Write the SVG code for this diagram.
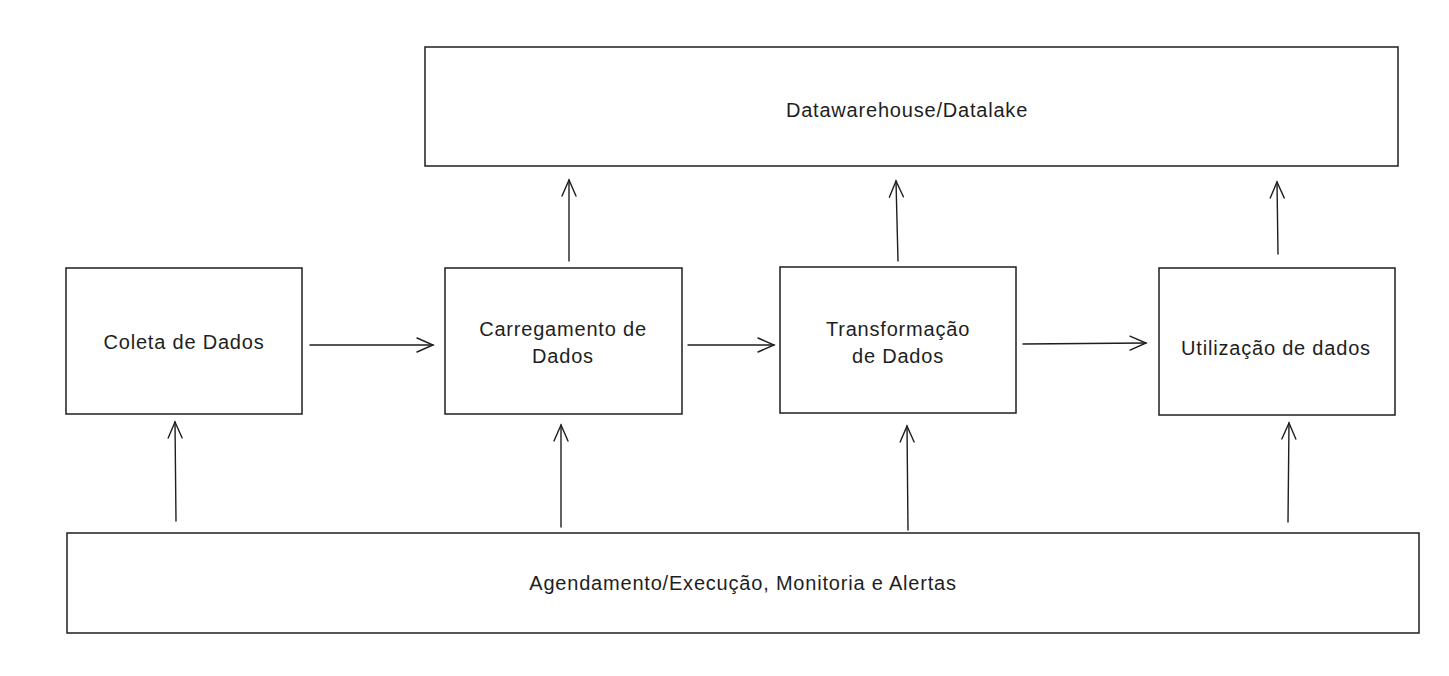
<svg xmlns="http://www.w3.org/2000/svg" width="1449" height="676" viewBox="0 0 1449 676">
<style>
.box{fill:#ffffff;stroke:#1e1e1e;stroke-width:1.5}
.lbl{font-family:"Liberation Sans",Arial,sans-serif;font-size:20px;fill:#1e1e1e;text-anchor:middle;letter-spacing:0.8px}
.edge{fill:none;stroke:#1e1e1e;stroke-width:1.4;stroke-linecap:round}
</style>
<defs>
<marker id="ah" viewBox="0 0 20 20" refX="18" refY="10" markerWidth="20" markerHeight="20" markerUnits="userSpaceOnUse" orient="auto">
<path d="M2,3 L18,10 L2,17" fill="none" stroke="#1e1e1e" stroke-width="1.4" stroke-linecap="round"/>
</marker>
</defs>
<rect width="1449" height="676" fill="#ffffff"/>
<g id="datawarehouse">
<rect class="box" x="425" y="47" width="973" height="119"/>
<text class="lbl" x="907" y="117">Datawarehouse/Datalake</text>
</g>
<g id="coleta">
<rect class="box" x="66" y="268" width="236" height="146"/>
<text class="lbl" x="184" y="349">Coleta de Dados</text>
</g>
<g id="carregamento">
<rect class="box" x="445" y="268" width="237" height="146"/>
<text class="lbl" x="563" y="336">Carregamento de</text>
<text class="lbl" x="563" y="363">Dados</text>
</g>
<g id="transformacao">
<rect class="box" x="780" y="267" width="236" height="146"/>
<text class="lbl" x="898" y="336">Transformação</text>
<text class="lbl" x="898" y="363">de Dados</text>
</g>
<g id="utilizacao">
<rect class="box" x="1159" y="268" width="236" height="147"/>
<text class="lbl" x="1276" y="355">Utilização de dados</text>
</g>
<g id="agendamento">
<rect class="box" x="67" y="533" width="1352" height="100"/>
<text class="lbl" x="743" y="590">Agendamento/Execução, Monitoria e Alertas</text>
</g>
<g id="connectors">
<path class="edge" d="M310,345 L433,345" marker-end="url(#ah)"/>
<path class="edge" d="M688,345 L774,345" marker-end="url(#ah)"/>
<path class="edge" d="M1023,344 L1146,343" marker-end="url(#ah)"/>
<path class="edge" d="M569,261 L569,180" marker-end="url(#ah)"/>
<path class="edge" d="M898,261 L896,181" marker-end="url(#ah)"/>
<path class="edge" d="M1278,254 L1277,182" marker-end="url(#ah)"/>
<path class="edge" d="M176,521 L175,422" marker-end="url(#ah)"/>
<path class="edge" d="M561,527 L561,425" marker-end="url(#ah)"/>
<path class="edge" d="M908,530 L907,426" marker-end="url(#ah)"/>
<path class="edge" d="M1288,522 L1289,423" marker-end="url(#ah)"/>
</g>
</svg>
